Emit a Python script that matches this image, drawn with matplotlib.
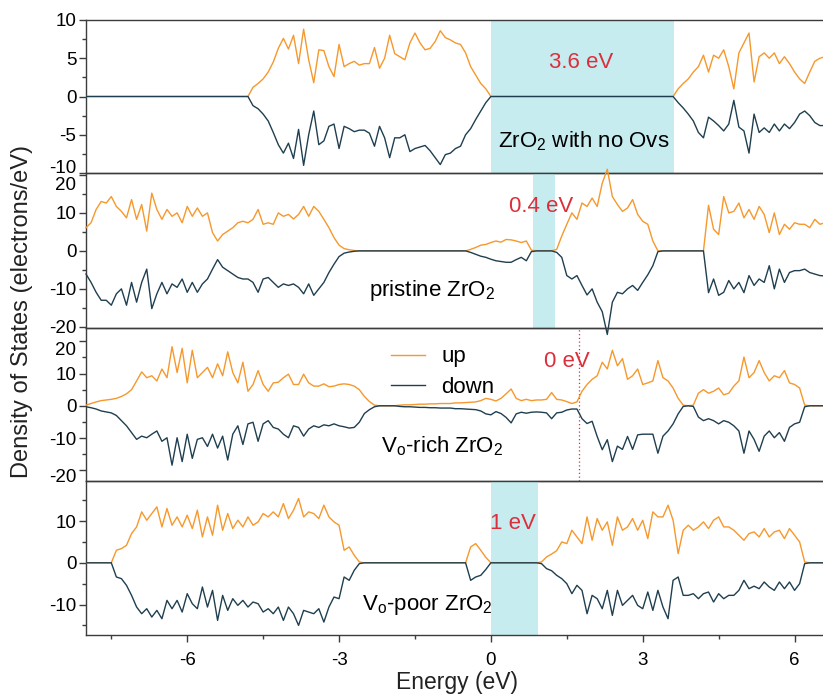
import numpy as np
import matplotlib
matplotlib.use('Agg')
import matplotlib.pyplot as plt
from matplotlib.ticker import MultipleLocator
from matplotlib.lines import Line2D
from matplotlib.transforms import ScaledTranslation

plt.rcParams['font.family'] = ['Liberation Sans', 'DejaVu Sans']
plt.rcParams['mathtext.default'] = 'regular'
plt.rcParams['axes.unicode_minus'] = False

# energy grid (eV), Fermi level at 0
E_MIN, E_MAX, E_STEP = -8.0, 6.6, 0.1
energy = np.round(np.arange(E_MIN, E_MAX + E_STEP / 2, E_STEP), 2)

# ---- ZrO2 with no Ovs : (start energy, spin up, spin down)
nov_valence_e0 = -4.8
nov_valence_up = [0, 1.2, 1.7, 2.3, 3.2, 4.5, 6.3, 7.6, 6.2, 8.0, 4.3, 8.8, 4.8, 1.8, 6.1, 6.0, 3.9,
                  2.6, 6.8, 3.9, 4.3, 4.6, 4.1, 4.3, 4.3, 6.4, 3.7, 5.0, 8.0, 5.6, 5.2, 4.8, 7.0, 8.3,
                  7.0, 6.1, 6.3, 7.2, 8.6, 7.7, 7.4, 7.0, 6.8, 5.7, 3.9, 2.8, 1.7, 1.0, 0.0]
nov_valence_dn = [0, -1.2, -1.6, -2.3, -3.2, -4.7, -6.3, -7.4, -6.1, -8.1, -4.3, -9.0, -5.0, -1.9,
                  -6.3, -5.8, -3.9, -3.6, -6.8, -3.9, -4.2, -4.6, -4.4, -4.4, -4.8, -6.5, -3.9, -5.4,
                  -8.0, -5.4, -5.4, -5.0, -7.2, -6.8, -6.6, -6.4, -7.1, -8.0, -8.9, -7.6, -7.4, -6.8,
                  -6.5, -5.0, -4.2, -3.0, -1.9, -0.8, 0.0]
nov_cond_e0 = 3.6
nov_cond_up = [0, 1.0, 1.7, 2.3, 3.2, 3.9, 5.4, 3.2, 5.4, 5.0, 6.1, 3.9, 1.0, 5.7, 7.0, 8.3, 1.9, 5.2,
               5.7, 5.0, 5.7, 4.3, 5.2, 4.3, 3.2, 2.3, 1.7, 3.2, 4.6, 5.0, 5.2]
nov_cond_dn = [0, -0.8, -1.5, -2.3, -3.2, -4.7, -5.4, -2.7, -3.2, -3.8, -4.5, -3.6, -0.5, -4.0, -4.5,
               -7.4, -2.3, -4.7, -4.1, -4.7, -3.6, -4.5, -3.6, -4.2, -3.4, -2.3, -1.9, -2.5, -3.4,
               -3.8, -3.8]

# ---- pristine ZrO2
pri_valence_e0 = -8.0
pri_valence_up = [6.1, 7.4, 10.9, 13.0, 12.6, 14.3, 11.7, 10.4, 8.7, 13.5, 8.3, 12.2, 5.2, 15.2, 10.9,
                  8.3, 10.9, 9.1, 10.0, 7.4, 11.7, 9.1, 11.3, 9.1, 10.0, 4.8, 2.6, 4.3, 5.2, 6.1, 7.4,
                  7.8, 7.4, 8.3, 10.9, 7.0, 7.4, 7.0, 10.0, 9.1, 9.6, 8.4, 9.6, 11.7, 9.1, 11.7, 10.4,
                  8.3, 6.1, 3.5, 1.5, 0.6, 0.3, 0.1, 0.0]
pri_valence_dn = [-6.1, -8.3, -10.9, -13.0, -13.0, -14.3, -11.3, -10.0, -14.3, -8.3, -13.5, -8.3, -4.8,
                  -15.2, -11.3, -8.3, -11.3, -8.7, -9.6, -7.4, -10.9, -8.3, -10.9, -8.7, -7.4, -4.8,
                  -2.3, -4.3, -5.2, -6.1, -7.0, -7.4, -7.4, -8.3, -10.9, -7.4, -7.0, -8.3, -9.6, -8.7,
                  -9.1, -8.7, -9.6, -11.3, -8.7, -11.7, -10.0, -8.3, -5.7, -3.5, -1.5, -0.6, -0.3,
                  -0.1, 0.0]
pri_defect_e0 = -0.5
pri_defect_up = [0, 0.4, 0.9, 1.5, 1.7, 2.2, 2.6, 2.3, 3.0, 2.9, 2.6, 2.2, 2.6, 0.2]
pri_defect_dn = [0, -0.4, -0.9, -1.4, -1.7, -2.2, -2.6, -2.8, -3.0, -3.0, -2.3, -1.7, -2.6, -0.2]
pri_cond_e0 = 1.3
pri_cond_up = [0.4, 3.9, 7.0, 10.0, 8.3, 12.6, 11.7, 13.9, 11.7, 17.8, 21.5, 14.3, 12.2, 10.4, 11.3,
               13.5, 9.6, 7.8, 7.0, 2.6, 0.0]
pri_cond_dn = [-0.4, -1.7, -6.5, -7.4, -6.5, -9.1, -11.6, -10.0, -13.5, -16.0, -22.0, -13.5, -10.9,
               -11.3, -10.0, -9.1, -10.4, -8.3, -6.3, -3.9, -0.2]
pri_high_e0 = 4.2
pri_high_up = [0, 12.0, 5.7, 4.3, 14.3, 10.0, 10.4, 12.6, 8.7, 10.9, 8.3, 11.7, 9.6, 4.8, 10.0, 4.3,
               7.0, 5.7, 7.4, 7.0, 7.0, 6.1, 8.3, 7.0, 7.4]
pri_high_dn = [0, -11.0, -7.4, -11.7, -10.9, -7.8, -10.0, -8.3, -11.0, -6.5, -9.1, -7.4, -8.3, -3.9,
               -10.0, -4.8, -8.3, -5.7, -5.2, -5.2, -4.8, -5.7, -6.1, -6.5, -6.6]

# ---- Vo-rich ZrO2
rich_valence_e0 = -8.0
rich_valence_up = [0.2, 0.7, 1.2, 1.6, 1.8, 2.0, 2.3, 2.9, 3.7, 5.0, 7.7, 10.5, 8.7, 9.3, 7.7, 11.4,
                   8.7, 18.3, 10.3, 17.8, 7.1, 17.2, 8.7, 10.3, 11.9, 8.7, 13.0, 9.3, 16.7, 10.3, 7.1,
                   13.5, 4.5, 6.6, 10.9, 6.6, 4.5, 7.1, 7.3, 8.7, 9.8, 6.6, 6.6, 9.8, 7.1, 6.1, 6.1,
                   6.8, 5.9, 6.1, 6.6, 6.8, 6.6, 6.1, 5.0, 2.9, 1.3, 0.2, 0.0]
rich_valence_dn = [-0.3, -0.6, -1.0, -1.6, -1.9, -2.2, -3.0, -4.6, -6.2, -8.3, -10.4, -9.4, -9.9, -8.8,
                   -7.8, -11.0, -9.9, -18.4, -9.9, -17.3, -8.8, -16.3, -10.4, -9.9, -12.6, -8.8,
                   -13.1, -9.4, -16.8, -8.8, -6.2, -12.0, -5.6, -5.1, -11.0, -5.6, -4.6, -6.7, -7.2,
                   -8.8, -9.9, -6.2, -6.7, -9.4, -7.2, -6.2, -6.7, -5.9, -6.2, -5.6, -6.2, -6.5, -6.9,
                   -6.7, -5.1, -2.4, -1.2, -0.3, 0.0]
rich_mid_e0 = -1.8
rich_mid_up = [0.2, 0.3, 0.3, 0.4, 0.5, 0.5, 0.6, 0.6, 0.7, 0.7, 0.7, 0.9, 0.9, 1.0, 1.1, 1.2, 1.6,
               2.3, 2.0, 1.5, 2.3, 3.7, 5.2, 2.3, 1.6, 2.0, 1.6, 1.8, 1.8, 2.0, 4.1, 2.0, 1.8, 1.3,
               0.7, 1.2, 4.5, 6.6, 8.2, 9.3, 13.5, 11.4, 17.2, 12.4, 14.6, 8.2, 9.3, 11.4, 6.6, 7.1,
               7.7, 14.0, 8.7, 7.7, 5.5, 2.3, 0.2, 0.0]
rich_mid_dn = [-0.2, -0.3, -0.3, -0.4, -0.5, -0.5, -0.6, -0.6, -0.7, -0.7, -0.7, -0.9, -0.9, -1.0,
               -1.1, -1.2, -1.6, -2.5, -2.8, -1.8, -2.4, -3.6, -5.3, -2.5, -2.0, -2.3, -2.0, -1.9,
               -2.0, -2.2, -4.0, -2.2, -2.0, -1.3, -1.0, -1.0, -4.0, -5.5, -4.8, -9.5, -13.6, -10.5,
               -17.3, -12.5, -13.5, -9.5, -13.5, -9.0, -8.8, -8.8, -8.8, -14.7, -9.4, -7.8, -5.6,
               -2.5, -0.2, 0.0]
rich_high_e0 = 4.0
rich_high_up = [0.2, 3.9, 5.0, 3.9, 4.5, 5.5, 3.4, 3.9, 6.1, 7.7, 15.1, 8.7, 10.3, 14.0, 10.3, 7.7,
                9.3, 8.7, 10.9, 7.1, 6.6, 5.5, 0.2, 0.0]
rich_high_dn = [-0.2, -3.5, -4.6, -4.0, -4.6, -5.6, -4.6, -5.1, -6.2, -7.8, -14.7, -7.8, -10.4, -14.1,
                -9.4, -7.8, -9.9, -8.3, -11.0, -6.7, -5.6, -5.1, -0.3, 0.0]

# ---- Vo-poor ZrO2
poor_valence_e0 = -7.5
poor_valence_up = [0, 3.0, 3.4, 4.2, 7.0, 8.6, 12.2, 10.2, 11.8, 13.4, 8.6, 13.0, 9.0, 11.0, 8.6, 11.4,
                   8.2, 12.6, 6.2, 11.0, 6.6, 13.8, 7.8, 11.8, 8.2, 10.2, 8.6, 11.0, 9.0, 9.8, 11.8,
                   11.0, 12.2, 11.0, 14.2, 10.6, 12.6, 15.4, 11.0, 12.2, 11.8, 10.6, 13.8, 11.0, 9.8,
                   9.0, 3.0, 3.8, 1.8, 0.2]
poor_valence_dn = [0, -3.4, -3.8, -5.4, -7.8, -10.6, -12.2, -11.0, -13.0, -11.4, -13.4, -9.0, -11.0,
                   -9.0, -11.8, -7.4, -9.8, -11.0, -5.8, -10.6, -6.6, -13.8, -7.8, -11.4, -8.6, -10.2,
                   -9.0, -10.6, -9.4, -9.8, -11.8, -11.0, -12.2, -10.6, -13.8, -10.6, -12.2, -15.0,
                   -11.4, -11.8, -12.2, -11.0, -14.2, -10.6, -8.2, -8.6, -3.4, -4.2, -1.8, -0.2]
poor_defect_e0 = -0.5
poor_defect_up = [0, 3.8, 4.6, 3.0, 1.3, 0]
poor_defect_dn = [0, -4.2, -3.4, -3.0, -1.6, 0]
poor_cond_e0 = 0.9
poor_cond_up = [0, 0.2, 1.4, 2.1, 2.9, 5.0, 4.6, 7.8, 6.2, 4.6, 11.0, 5.4, 10.6, 7.8, 9.8, 4.2, 11.0,
                7.8, 8.6, 10.6, 7.8, 10.2, 5.8, 12.2, 11.0, 11.0, 13.8, 10.2, 2.2, 7.8, 9.0, 7.8,
                8.6, 9.8, 8.2, 10.2, 11.0, 8.6, 8.6, 7.8, 6.6, 5.4, 7.0, 7.4, 6.2, 8.2, 6.2, 7.4,
                7.8, 5.8, 8.2, 6.6, 5.0, 0.2, 0.0]
poor_cond_dn = [0, -0.2, -1.4, -1.9, -3.0, -3.8, -5.0, -7.4, -5.4, -6.6, -12.2, -7.8, -8.6, -11.0,
                -6.6, -12.6, -6.6, -10.2, -9.0, -7.8, -10.2, -11.0, -7.0, -11.4, -6.6, -10.6, -13.4,
                -4.2, -3.4, -7.8, -7.8, -7.4, -8.6, -7.4, -7.0, -9.4, -7.4, -8.6, -7.8, -7.8, -6.6,
                -4.2, -6.2, -5.6, -6.2, -4.6, -5.8, -6.6, -4.6, -6.2, -4.6, -6.6, -5.0, -0.2, 0.0]

# band gaps (start, end) and Fermi marker
gap_nov = (0.0, 3.62)
gap_pri = (0.83, 1.26)
gap_poor = (0.0, 0.93)
fermi_rich = 1.74


def build(bands):
    up = np.zeros_like(energy)
    dn = np.zeros_like(energy)
    for e0, u, d in bands:
        i = int(round((e0 - E_MIN) / E_STEP))
        up[i:i + len(u)] = u
        dn[i:i + len(d)] = d
    return up, dn


panels = [
    build([(nov_valence_e0, nov_valence_up, nov_valence_dn),
           (nov_cond_e0, nov_cond_up, nov_cond_dn)]),
    build([(pri_valence_e0, pri_valence_up, pri_valence_dn),
           (pri_defect_e0, pri_defect_up, pri_defect_dn),
           (pri_cond_e0, pri_cond_up, pri_cond_dn),
           (pri_high_e0, pri_high_up, pri_high_dn)]),
    build([(rich_valence_e0, rich_valence_up, rich_valence_dn),
           (rich_mid_e0, rich_mid_up, rich_mid_dn),
           (rich_high_e0, rich_high_up, rich_high_dn)]),
    build([(poor_valence_e0, poor_valence_up, poor_valence_dn),
           (poor_defect_e0, poor_defect_up, poor_defect_dn),
           (poor_cond_e0, poor_cond_up, poor_cond_dn)]),
]

UP_C = '#f6982c'
DN_C = '#1f3f50'
RED = '#dc2f3c'
GAP_C = '#c6ecef'
SPINE_C = '#3c3c3c'
TXT = 16

W, H = 823, 695
fig = plt.figure(figsize=(W / 100, H / 100), dpi=100)

# panel extents in pixels (top, bottom), y limits, tick steps
frames = [(20, 173), (173, 328), (328, 481), (481, 635)]
ylims = [(-10, 10), (-20.3, 20.5), (-23.3, 24.1), (-17.3, 19.6)]
majors = [5, 10, 10, 10]
minors = [2.5, 5, 5, 5]
left_px, right_px = 86, 831

axes = []
for k, ((t, b), yl) in enumerate(zip(frames, ylims)):
    ax = fig.add_axes([left_px / W, 1 - b / H, (right_px - left_px) / W, (b - t) / H])
    up, dn = panels[k]
    clip = k != 1
    ax.plot(energy, up, color=UP_C, lw=1.0, clip_on=clip, zorder=3)
    ax.plot(energy, dn, color=DN_C, lw=1.0, clip_on=clip, zorder=4)
    ax.set_xlim(-8.0, 6.72)
    ax.set_ylim(*yl)
    ax.yaxis.set_major_locator(MultipleLocator(majors[k]))
    ax.yaxis.set_minor_locator(MultipleLocator(minors[k]))
    ax.xaxis.set_major_locator(MultipleLocator(3))
    ax.xaxis.set_minor_locator(MultipleLocator(1.5))
    ax.patch.set_alpha(0)
    for s in ax.spines.values():
        s.set_color(SPINE_C)
        s.set_linewidth(1.0)
    ax.spines['right'].set_visible(False)
    ax.tick_params(axis='y', which='major', direction='out', length=5, width=1.0,
                   color=SPINE_C, labelsize=13.5, pad=2)
    ax.tick_params(axis='y', which='minor', direction='out', length=3, width=1.0, color=SPINE_C)
    if k < 3:
        ax.tick_params(axis='x', which='both', bottom=False, labelbottom=False)
    else:
        ax.tick_params(axis='x', which='major', direction='out', length=5, width=1.0,
                       color=SPINE_C, labelsize=13.5, pad=7)
        ax.tick_params(axis='x', which='minor', direction='out', length=3, width=1.0,
                       color=SPINE_C)
    axes.append(ax)

ax1, ax2, ax3, ax4 = axes

ax1.axvspan(*gap_nov, color=GAP_C, lw=0, zorder=0)
ax2.axvspan(*gap_pri, color=GAP_C, lw=0, zorder=0)
ax4.axvspan(*gap_poor, color=GAP_C, lw=0, zorder=0)
ax3.axvline(fermi_rich, color=RED, ls=(0, (1, 2)), lw=0.9, zorder=2)

ax1.text(1.78, 4.5, '3.6 eV', color=RED, fontsize=TXT, ha='center', va='center')
ax1.text(1.84, -5.9, 'ZrO$_2$ with no Ovs', color='black', fontsize=TXT, ha='center', va='center')
ax2.text(0.99, 11.7, '0.4 eV', color=RED, fontsize=TXT, ha='center', va='center')
ax2.text(-1.17, -10.4, 'pristine ZrO$_2$', color='black', fontsize=TXT, ha='center', va='center')
ax3.text(1.50, 13.7, '0 eV', color=RED, fontsize=TXT, ha='center', va='center')
ax3.text(-0.97, -12.6, 'V$_o$-rich ZrO$_2$', color='black', fontsize=TXT, ha='center', va='center')
ax4.text(0.43, 9.5, '1 eV', color=RED, fontsize=TXT, ha='center', va='center')
ax4.text(-1.26, -10.1, 'V$_o$-poor ZrO$_2$', color='black', fontsize=TXT, ha='center', va='center')

handles = [Line2D([], [], color=UP_C, lw=1.0), Line2D([], [], color=DN_C, lw=1.0)]
ax3.legend(handles, ['up', 'down'], loc='upper left', bbox_to_anchor=(0.41, 0.88),
           frameon=False, fontsize=TXT, handlelength=1.5, handletextpad=0.75,
           borderpad=0, borderaxespad=0, labelspacing=0.42)

fig.text(22 / W, 1 - 312 / H, 'Density of States (electrons/eV)', rotation=90,
         ha='center', va='center', fontsize=17, color='#222222')
fig.text(457 / W, 1 - 682 / H, 'Energy (eV)', ha='center', va='center', fontsize=16.5,
         color='#222222')

# labels at the shared panel borders sit a little off their ticks
fig.canvas.draw()
nudges = [(ax1, -10, 5), (ax2, 20, -6), (ax3, 20, -5), (ax3, -20, -4)]
for ax, loc, dy in nudges:
    for tick in ax.yaxis.get_major_ticks():
        if abs(tick.get_loc() - loc) < 1e-6:
            tick.label1.set_transform(tick.label1.get_transform() +
                                      ScaledTranslation(0, dy / 72, fig.dpi_scale_trans))

fig.savefig('out.png', dpi=100)
